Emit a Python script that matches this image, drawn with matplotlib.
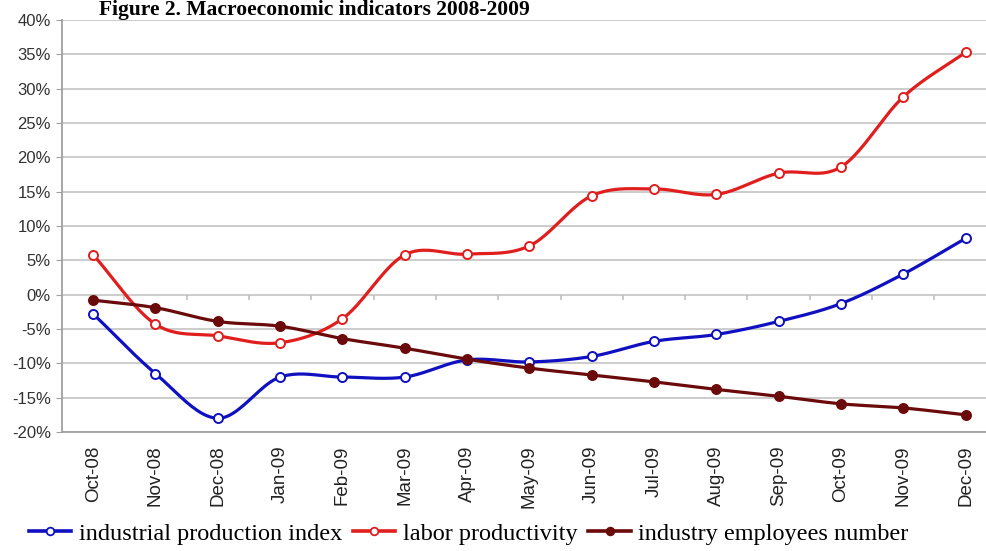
import numpy as np
import matplotlib.pyplot as plt
from matplotlib.ticker import FuncFormatter

months = ['Oct-08', 'Nov-08', 'Dec-08', 'Jan-09', 'Feb-09', 'Mar-09', 'Apr-09', 'May-09',
          'Jun-09', 'Jul-09', 'Aug-09', 'Sep-09', 'Oct-09', 'Nov-09', 'Dec-09']

industrial_production = [-2.8, -11.5, -18.0, -12.0, -12.0, -12.0, -9.5, -9.8,
                         -9.0, -6.8, -5.8, -3.9, -1.3, 3.0, 8.2]
labor_productivity = [5.8, -4.3, -6.0, -7.0, -3.5, 5.8, 5.9, 7.1,
                      14.4, 15.4, 14.6, 17.7, 18.6, 28.8, 35.3]
employees_number = [-0.8, -1.9, -3.9, -4.6, -6.4, -7.8, -9.4, -10.7,
                    -11.7, -12.7, -13.8, -14.8, -15.9, -16.5, -17.5]

series_names = ['industrial production index', 'labor productivity', 'industry employees number']


def smooth(x, y, steps=24):
    # excel style smoothed line (catmull-rom through the points)
    x = np.asarray(x, float)
    y = np.asarray(y, float)
    px = np.concatenate([[2 * x[0] - x[1]], x, [2 * x[-1] - x[-2]]])
    py = np.concatenate([[2 * y[0] - y[1]], y, [2 * y[-1] - y[-2]]])
    xs, ys = [], []
    t = np.linspace(0, 1, steps, endpoint=False)
    for i in range(1, len(px) - 2):
        for p, out in ((px, xs), (py, ys)):
            p0, p1, p2, p3 = p[i - 1], p[i], p[i + 1], p[i + 2]
            out.extend(0.5 * (2 * p1 + (-p0 + p2) * t + (2 * p0 - 5 * p1 + 4 * p2 - p3) * t ** 2
                              + (-p0 + 3 * p1 - 3 * p2 + p3) * t ** 3))
    xs.append(x[-1])
    ys.append(y[-1])
    return xs, ys


fig = plt.figure(figsize=(9.86, 5.51), dpi=100)
ax = fig.add_axes([0.0629, 0.216, 0.948, 0.7477])

x = np.arange(len(months))
styles = [
    (industrial_production, '#1010C0', 'white'),
    (labor_productivity, '#E01E1E', 'white'),
    (employees_number, '#6A0A0A', '#6A0A0A'),
]
for (vals, col, face), name in zip(styles, series_names):
    sx, sy = smooth(x, vals)
    ax.plot(sx, sy, color=col, lw=2.3, zorder=3)
    ax.plot(x, vals, ls='none', marker='o', ms=6.5, mec=col, mfc=face, mew=1.4, zorder=4)
    ax.plot([], [], color=col, lw=2.6, marker='o', ms=5.5, mec=col, mfc=face, mew=1.3, label=name)

ax.set_xlim(-0.5, len(months) - 0.5)
ax.set_ylim(-20, 40)
ax.set_yticks(np.arange(-20, 41, 5))
ax.yaxis.set_major_formatter(FuncFormatter(lambda v, p: f'{v:.0f}%'))
ax.grid(axis='y', color='#C8C8C8', lw=1.3)
ax.set_axisbelow(True)

# little category ticks on the zero line
ax.vlines(x[1:] - 0.5, -0.8, 0, color='#C0C0C0', lw=1.2, zorder=2)

ax.set_xticks(x)
ax.set_xticklabels(months, rotation=90)
for s in ['top', 'right']:
    ax.spines[s].set_visible(False)
for s in ['left', 'bottom']:
    ax.spines[s].set_color('#A0A0A0')
    ax.spines[s].set_linewidth(1.3)
ax.tick_params(axis='x', length=0, pad=10, labelsize=13.5, labelcolor='#222222')
ax.tick_params(axis='y', length=4, color='#A0A0A0', pad=4, labelsize=12, labelcolor='#333333')
for lbl in ax.get_xticklabels() + ax.get_yticklabels():
    lbl.set_family('Liberation Sans')

fig.text(0.1, 1 - 15 / 551, 'Figure 2. Macroeconomic indicators 2008-2009', ha='left', va='baseline',
         family='Liberation Serif', weight='bold', fontsize=15.5)

fig.legend(loc='lower left', bbox_to_anchor=(0.012, -0.02), ncol=3, frameon=False,
           prop={'family': 'Liberation Serif', 'size': 17.5}, handlelength=1.75,
           handletextpad=0.3, columnspacing=0.45, borderpad=0.2)

fig.savefig('out.png', dpi=100)
